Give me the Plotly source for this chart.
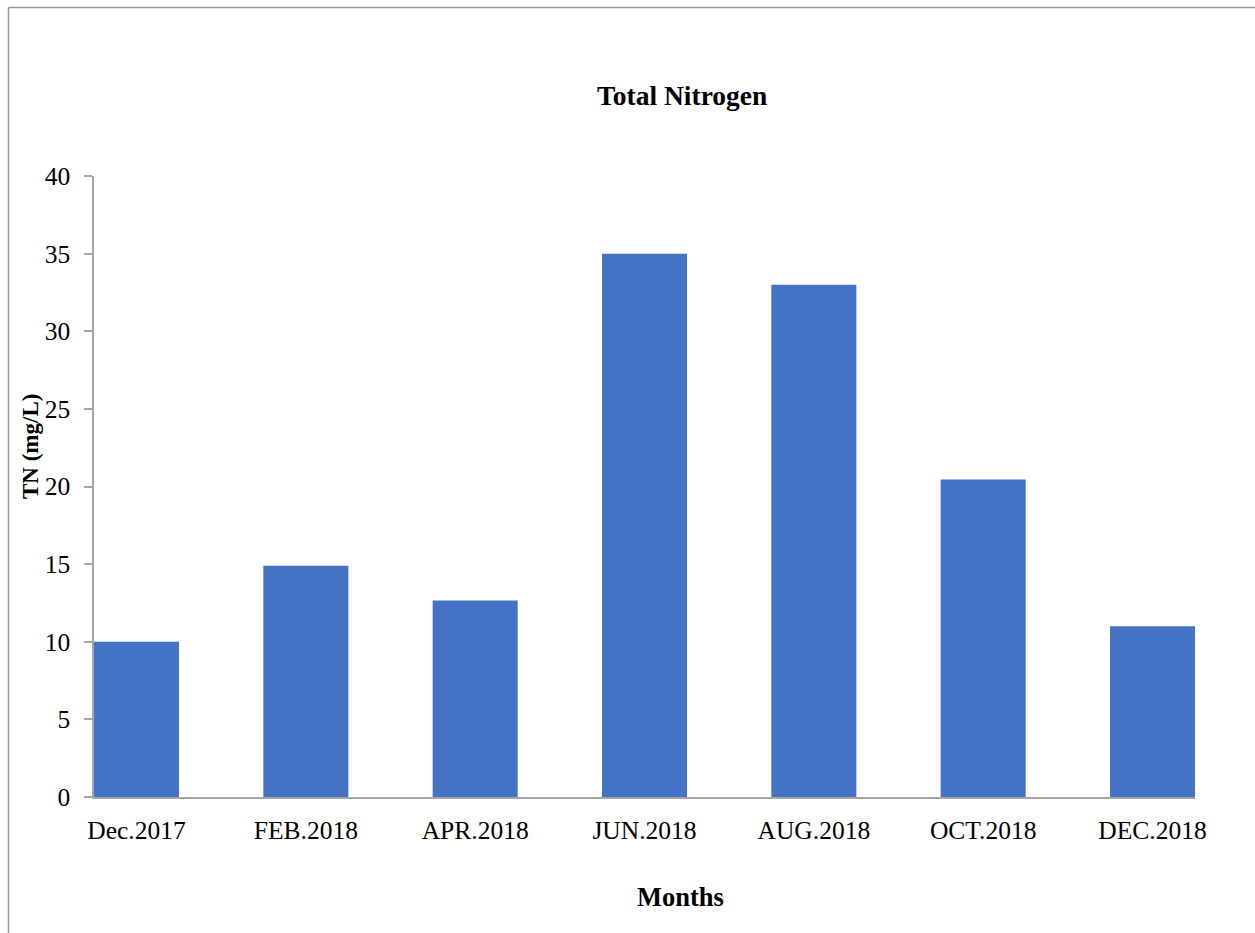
import plotly.graph_objects as go

months = ["Dec.2017", "FEB.2018", "APR.2018", "JUN.2018", "AUG.2018", "OCT.2018", "DEC.2018"]
tn_values = [10.0, 14.9, 12.65, 35.0, 33.0, 20.45, 11.0]
y_ticks = [0, 5, 10, 15, 20, 25, 30, 35, 40]

W, H = 1255, 933
L, R, T, B = 94, 60, 176, 136
pw, ph = W - L - R, H - T - B

def px_x(x):
    return (x - L) / pw

def px_y(y):
    return (H - B - y) / ph

FONT = "Liberation Serif, Times New Roman, serif"
bw = 0.502

fig = go.Figure(go.Bar(x=months, y=tn_values, marker=dict(color="#4472C4", line=dict(width=0)),
                       width=bw))

fig.update_layout(
    width=W, height=H,
    margin=dict(l=L, r=R, t=T, b=B),
    paper_bgcolor="white", plot_bgcolor="white",
    font=dict(family=FONT, size=25.5, color="black"),
    showlegend=False,
    xaxis=dict(range=[-bw / 2, len(months) - 1 + bw / 2], showline=True, linecolor="#a6a6a6", linewidth=1.5,
               ticks="", showgrid=False, zeroline=False, tickfont=dict(size=25.5), ticklabelstandoff=10),
    yaxis=dict(range=[0, 40], tickvals=y_ticks, showline=True, linecolor="#a6a6a6", linewidth=1.5,
               ticks="outside", ticklen=8, tickcolor="#a6a6a6", tickwidth=1.5,
               showgrid=False, zeroline=False, tickfont=dict(size=25.5), ticklabelstandoff=9),
    annotations=[
        dict(text="<b>Total Nitrogen</b>", x=px_x(682), y=px_y(95), xref="paper", yref="paper",
             showarrow=False, font=dict(size=27.5), xanchor="center", yanchor="middle"),
        dict(text="<b>Months</b>", x=px_x(680), y=px_y(897), xref="paper", yref="paper",
             showarrow=False, font=dict(size=26.5), xanchor="center", yanchor="middle"),
        dict(text="<b>TN (mg/L)</b>", x=px_x(30), y=px_y(447), xref="paper", yref="paper",
             showarrow=False, font=dict(size=23), textangle=-90, xanchor="center", yanchor="middle"),
    ],
    shapes=[
        dict(type="line", xref="paper", yref="paper", x0=px_x(8.5), x1=px_x(8.5), y0=px_y(7.5), y1=px_y(940),
             line=dict(color="#9a9a9a", width=1.5)),
        dict(type="line", xref="paper", yref="paper", x0=px_x(8.5), x1=px_x(1260), y0=px_y(7.5), y1=px_y(7.5),
             line=dict(color="#9a9a9a", width=1.5)),
    ],
)

fig.write_html("out.html")
